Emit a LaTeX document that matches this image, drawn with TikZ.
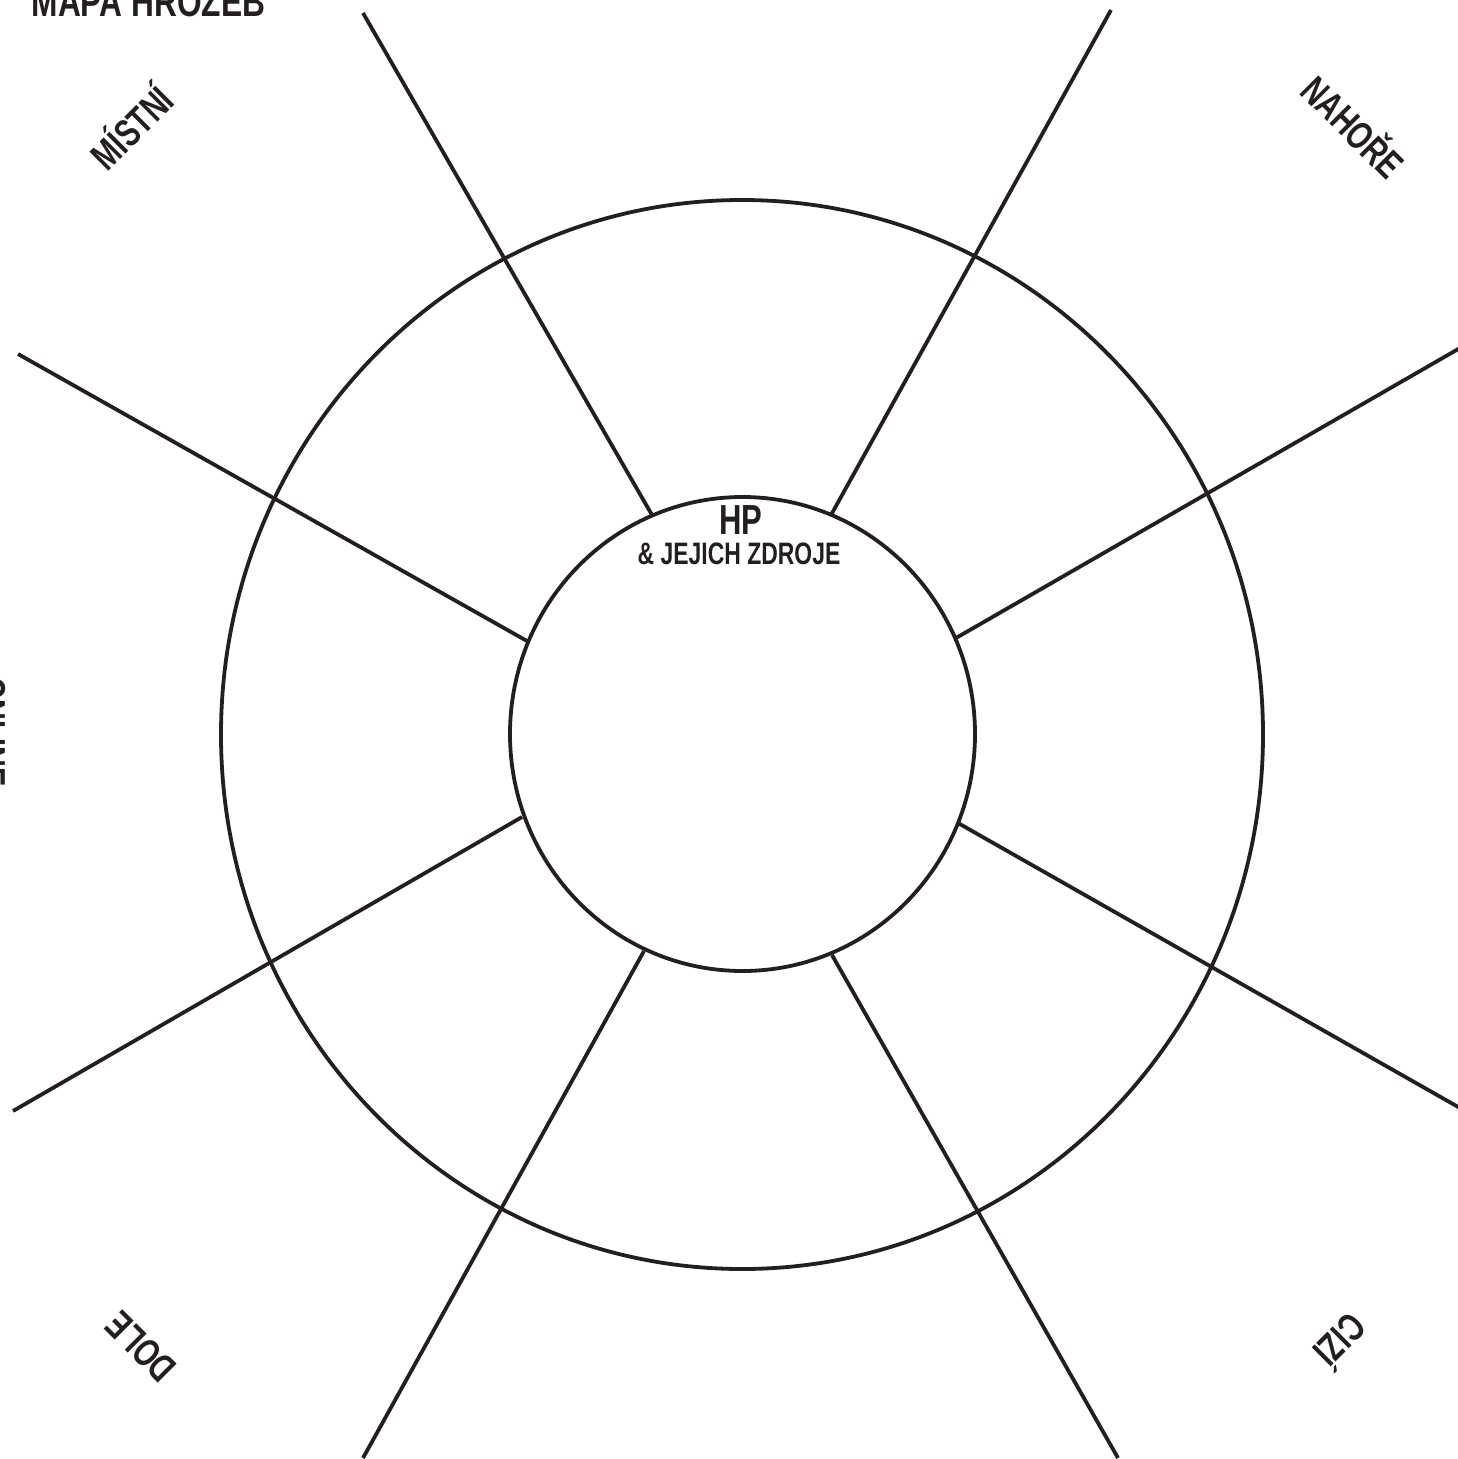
\documentclass[tikz,border=0pt]{standalone}
\usepackage{fontspec}
\setmainfont{Liberation Sans}[FakeStretch=0.74]
\definecolor{ink}{HTML}{231F20}
\begin{document}
\begin{tikzpicture}[x=1pt,y=-1pt,
  ring/.style={draw=ink,line width=3.8pt},
  spoke/.style={draw=ink,line width=3.8pt},
  lab/.style={text=ink,font=\bfseries\fontsize{39}{39}\selectfont,inner sep=0pt},
]
\useasboundingbox (0,0) rectangle (1458,1459);
% rings
\coordinate (c1) at (742,734.5);
\coordinate (c2) at (742.5,734);
\draw[ring] (c1) ellipse [x radius=521, y radius=534.5];
\draw[ring] (c2) ellipse [x radius=232.5, y radius=237];
% spoke end points
\coordinate (o1) at (363,13);    \coordinate (i1) at (652,515);
\coordinate (o2) at (1111,10);   \coordinate (i2) at (831,515);
\coordinate (o3) at (1460,348);  \coordinate (i3) at (956,638);
\coordinate (o4) at (1460,1108); \coordinate (i4) at (958,823);
\coordinate (o5) at (1118,1458); \coordinate (i5) at (832,955);
\coordinate (o6) at (363,1458);  \coordinate (i6) at (644,951);
\coordinate (o7) at (13,1111);   \coordinate (i7) at (522,817);
\coordinate (o8) at (18,354);    \coordinate (i8) at (527,641);
\foreach \k in {1,...,8} \draw[spoke] (o\k) -- (i\k);
% labels
\node[lab,font=\bfseries\fontsize{42}{42}\selectfont,xscale=1.02] (title) at (148.5,2) {MAPA HROZEB};
\node[lab,rotate=45] (mistni) at (130,126) {MÍSTNÍ};
\node[lab,rotate=-45] (nahore) at (1355,125) {NAHOŘE};
\node[lab,rotate=135] (dole) at (141,1347) {DOLE};
\node[lab,rotate=-135] (cizi) at (1342,1342) {CIZÍ};
\node[lab,rotate=-90] (online) at (-8,732) {ONLINE};
\node[lab,font=\bfseries\fontsize{42}{42}\selectfont] (hp) at (741,520) {HP};
\node[lab,font=\bfseries\fontsize{31}{31}\selectfont] (zdroje) at (739,554) {\& JEJICH ZDROJE};
\end{tikzpicture}
\end{document}
